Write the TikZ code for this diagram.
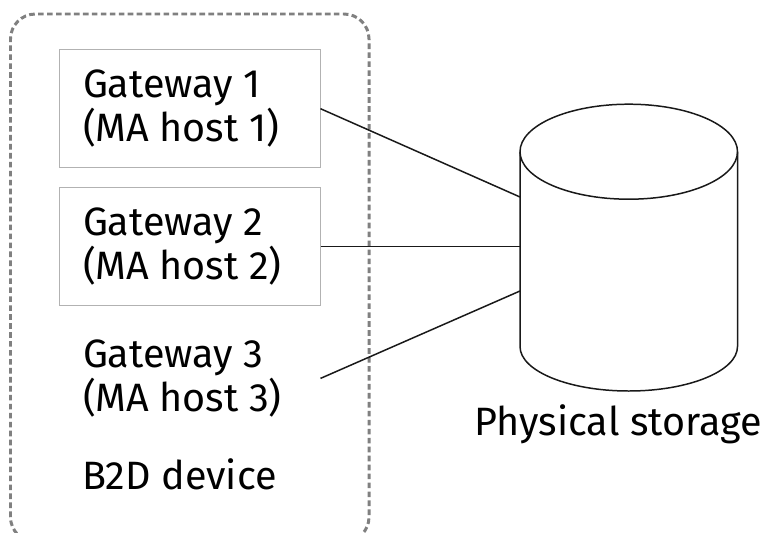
\documentclass[tikz,border=0pt]{standalone}
\usepackage{fontspec}
\setmainfont{Fira Sans}[WordSpace=1]
\usetikzlibrary{positioning}
\tikzset{
  gatebox/.style={draw=black!30, line width=0.6pt, minimum width=5.22cm, minimum height=2.37cm,
    text width=4.28cm, inner xsep=0.47cm, inner ysep=0pt, align=flush left, outer sep=0pt},
  gateplain/.style={gatebox, draw=none},
  labeltext/.style={inner sep=0pt, outer sep=0pt},
  link/.style={line width=0.85pt, black!90}
}
\begin{document}
\begin{tikzpicture}[every node/.append style={font=\fontsize{22.5}{22.7}\selectfont}]
    \clip (0,0) rectangle (15.28,10.64);
    % B2D device outline
    \draw[gray, line width=1.7pt, dash pattern=on 3.2pt off 1.9pt, rounded corners=0.5cm] (0.21,-0.2) rectangle (7.38,10.36);
    % Gateways
    \node[gatebox] (gw1) at (3.8,8.466) {Gateway 1\\(MA host 1)};
    \node[gatebox, below=0.39cm of gw1] (gw2) {Gateway 2\\(MA host 2)};
    \node[gateplain, below=0.264cm of gw2] (gw3) {Gateway 3\\(MA host 3)};
    \node[labeltext, anchor=base west] (b2d) at (1.65,0.86) {B2D device};
    % Physical storage
    \def\rx{2.175}
    \coordinate (storeTL) at (10.4,7.606);
    \coordinate (storeBL) at (10.4,3.71);
    \draw[link] (storeBL) -- (storeTL) arc[start angle=180, end angle=0, x radius=\rx, y radius=0.95]
        -- ++(0,-3.896) arc[start angle=0, end angle=-180, x radius=\rx, y radius=0.89];
    \draw[link] (storeTL) arc[start angle=180, end angle=360, x radius=\rx, y radius=0.95];
    \node[labeltext, anchor=base west] (storelabel) at (9.49,1.94) {Physical storage};
    % Connectors
    \coordinate (s1) at (10.4,6.7);
    \coordinate (s3) at (10.4,4.82);
    \draw[link] (gw1.east) -- (s1);
    \draw[link] (gw2.east) -- (gw2.east -| s1);
    \draw[link] (gw3.east) -- (s3);
\end{tikzpicture}
\end{document}
